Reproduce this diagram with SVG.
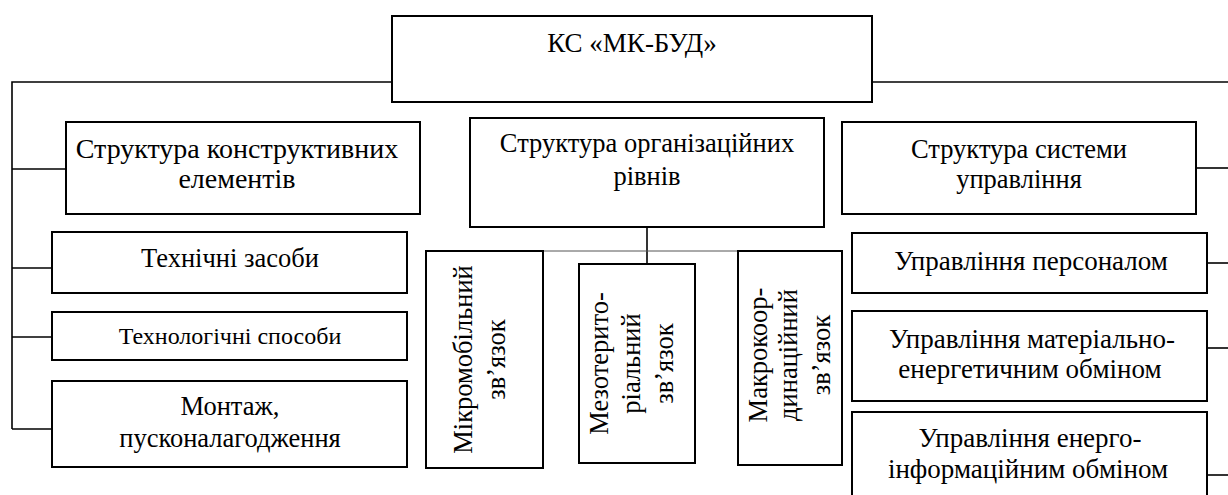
<svg xmlns="http://www.w3.org/2000/svg" width="1228" height="495" viewBox="0 0 1228 495">
<style>
  .box { fill: #fff; stroke: #000; stroke-width: 2; }
  .conn { fill: none; stroke: #000; stroke-width: 1.6; }
  .thin { fill: none; stroke: #555; stroke-width: 1; }
  text { font-family: "Liberation Serif", "Times New Roman", serif; font-size: 26.5px; fill: #000; text-anchor: middle; }
  .sm { font-size: 24px; }
  .lg { font-size: 27px; }
  .xl { font-size: 28px; }
</style>
<rect width="1228" height="495" fill="#fff"/>
<g id="connectors">
  <path class="conn" d="M392 82 H12 V429"/>
  <path class="conn" d="M12 169 H66"/>
  <path class="conn" d="M12 268 H52"/>
  <path class="conn" d="M12 337 H52"/>
  <path class="conn" d="M12 429 H52"/>
  <path class="conn" d="M872 82 H1228"/>
  <path class="conn" d="M1196 168 H1228"/>
  <path class="conn" d="M1207 263 H1228"/>
  <path class="conn" d="M1207 348 H1228"/>
  <path class="conn" d="M1207 475 H1228"/>
  <path class="conn" d="M647 227 V264"/>
  <path class="thin" d="M427 251 H842"/>
</g>
<g id="root">
  <rect class="box" x="392" y="16" width="480" height="86"/>
  <text class="lg" x="632" y="52">КС «МК-БУД»</text>
</g>
<g id="struct-construct">
  <rect class="box" x="66" y="122" width="354" height="92"/>
  <text class="xl" x="237" y="158">Структура конструктивних</text>
  <text class="xl" x="237" y="188">елементів</text>
</g>
<g id="struct-org">
  <rect class="box" x="470" y="118" width="354" height="109"/>
  <text x="647" y="152">Структура організаційних</text>
  <text x="647" y="185">рівнів</text>
</g>
<g id="struct-mgmt">
  <rect class="box" x="842" y="122" width="354" height="92"/>
  <text x="1019" y="158">Структура системи</text>
  <text x="1019" y="188">управління</text>
</g>
<g id="tech-means">
  <rect class="box" x="52" y="232" width="355" height="61"/>
  <text x="230" y="267">Технічні засоби</text>
</g>
<g id="tech-methods">
  <rect class="box" x="52" y="312" width="355" height="48"/>
  <text class="sm" x="230" y="344">Технологічні способи</text>
</g>
<g id="montage">
  <rect class="box" x="52" y="381" width="355" height="86"/>
  <text x="230" y="415">Монтаж,</text>
  <text x="230" y="447">пусконалагодження</text>
</g>
<g id="micro">
  <rect class="box" x="426" y="251" width="117" height="217"/>
  <text transform="translate(472 359.5) rotate(-90)">Мікромобільний</text>
  <text transform="translate(505 359.5) rotate(-90)">зв’язок</text>
</g>
<g id="meso">
  <rect class="box" x="579" y="264" width="116" height="199"/>
  <text transform="translate(608 363.5) rotate(-90)">Мезотерито-</text>
  <text transform="translate(640 363.5) rotate(-90)">ріальний</text>
  <text transform="translate(673 363.5) rotate(-90)">зв’язок</text>
</g>
<g id="macro">
  <rect class="box" x="738" y="251" width="104" height="214"/>
  <text transform="translate(767 355) rotate(-90)">Макрокоор-</text>
  <text transform="translate(797 355) rotate(-90)">динаційний</text>
  <text transform="translate(830 355) rotate(-90)">зв’язок</text>
</g>
<g id="mgmt-personnel">
  <rect class="box" x="852" y="233" width="355" height="60"/>
  <text class="lg" x="1031" y="270">Управління персоналом</text>
</g>
<g id="mgmt-material">
  <rect class="box" x="852" y="311" width="355" height="90"/>
  <text class="lg" x="1032" y="348">Управління матеріально-</text>
  <text class="lg" x="1030" y="378">енергетичним обміном</text>
</g>
<g id="mgmt-energy">
  <rect class="box" x="852" y="412" width="355" height="100"/>
  <text class="lg" x="1030" y="447">Управління енерго-</text>
  <text class="lg" x="1028" y="478">інформаційним обміном</text>
</g>
</svg>
